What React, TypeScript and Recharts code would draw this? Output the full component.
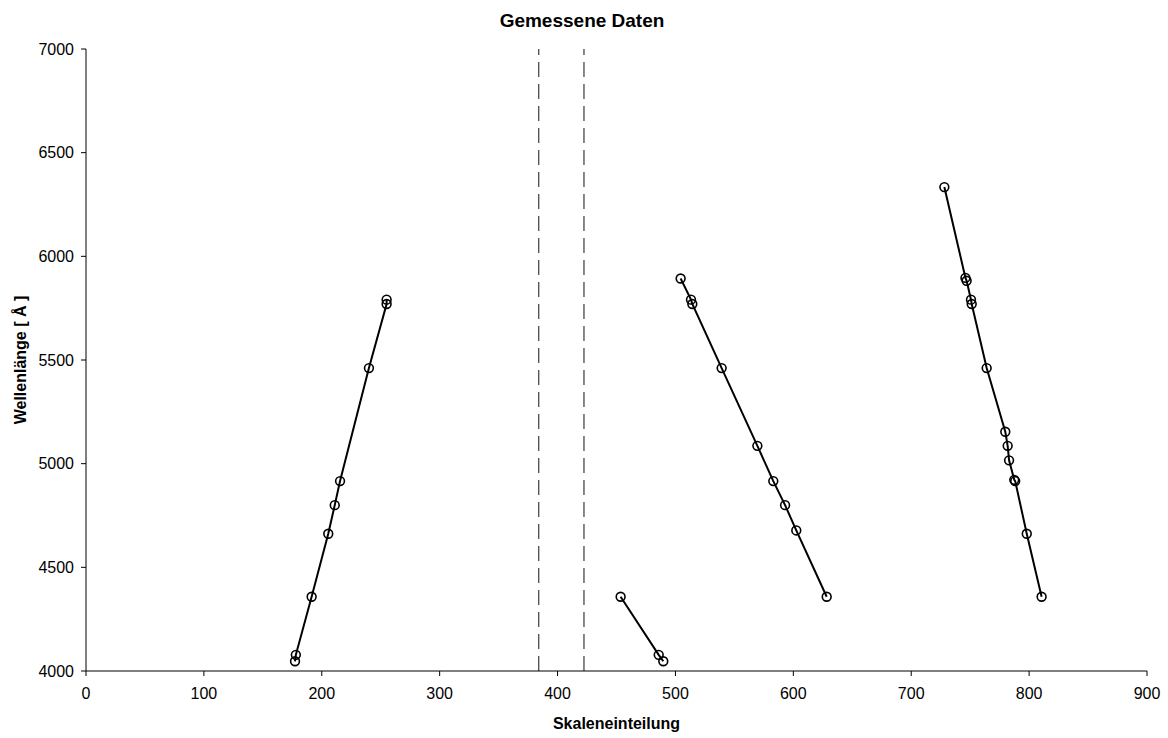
import { ScatterChart, Scatter, XAxis, YAxis, ReferenceLine } from 'recharts';

// Skalenteil / Wellenlänge, je Spektrum eine Reihe
const xLinks = [177.3, 178, 191.4, 205.5, 211, 215.5, 240, 255, 255];
const wLinks = [4047, 4078, 4358, 4662, 4800, 4916, 5461, 5770, 5791];

const xKurz = [453.5, 485.8, 489.7];
const wKurz = [4358, 4078, 4047];

const xMitte = [504.4, 513.2, 514.3, 539.2, 569.5, 583, 593, 602.5, 628.3];
const wMitte = [5893, 5791, 5770, 5461, 5086, 4916, 4800, 4678, 4358];

const xRechts = [728.1, 746, 747, 750.7, 751.3, 764, 779.8, 781.8, 783, 787.4, 788.2, 798, 810.6];
const wRechts = [6334, 5896, 5882, 5791, 5770, 5461, 5154, 5086, 5016, 4922, 4916, 4662, 4358];

const grenzen = [384, 422.4];

const xTicks = [0, 100, 200, 300, 400, 500, 600, 700, 800, 900];
const yTicks = [4000, 4500, 5000, 5500, 6000, 6500, 7000];

const toPoints = (xs: number[], ws: number[]) => xs.map((x, i) => ({ x, y: ws[i] }));

const reihen = [
  toPoints(xLinks, wLinks),
  toPoints(xKurz, wKurz),
  toPoints(xMitte, wMitte),
  toPoints(xRechts, wRechts),
];

const font = 'Liberation Sans, Arial, sans-serif';

const Kreis = (props: any) => (
  <circle cx={props.cx} cy={props.cy} r={4.4} fill="none" stroke="#000" strokeWidth={1.6} />
);

export default function App() {
  return (
    <div style={{ position: 'absolute', left: 0, top: 0, width: 1168, height: 738, background: '#fff', fontFamily: font }}>
      <div
        style={{
          position: 'absolute',
          left: 0,
          top: 11,
          width: 1164,
          textAlign: 'center',
          fontSize: 19,
          lineHeight: '19px',
          fontWeight: 'bold',
          color: '#000',
        }}
      >
        Gemessene Daten
      </div>
      <ScatterChart width={1168} height={738} margin={{ top: 49, right: 21, bottom: 7, left: 0 }}>
        <XAxis
          type="number"
          dataKey="x"
          domain={[0, 900]}
          ticks={xTicks}
          height={60}
          stroke="#000"
          tickSize={5}
          tickMargin={12}
          tick={{ fontSize: 16, fill: '#000', fontFamily: font }}
          label={{
            value: 'Skaleneinteilung',
            position: 'insideBottom',
            offset: 2,
            style: { fontSize: 16, fontWeight: 'bold', fill: '#000', fontFamily: font },
          }}
        />
        <YAxis
          type="number"
          dataKey="y"
          domain={[4000, 7000]}
          ticks={yTicks}
          width={86}
          stroke="#000"
          tickSize={5}
          tickMargin={7}
          tick={{ fontSize: 16, fill: '#000', fontFamily: font }}
          label={{
            value: 'Wellenlänge [ Å ]',
            angle: -90,
            position: 'insideLeft',
            offset: 20,
            style: { fontSize: 16, fontWeight: 'bold', fill: '#000', fontFamily: font, textAnchor: 'middle' },
          }}
        />
        {grenzen.map((g) => (
          <ReferenceLine key={g} x={g} stroke="#555" strokeWidth={1.4} strokeDasharray="15 7" />
        ))}
        {reihen.map((d, i) => (
          <Scatter
            key={i}
            data={d}
            line={{ stroke: '#000', strokeWidth: 2 }}
            lineType="joint"
            shape={Kreis}
            isAnimationActive={false}
          />
        ))}
      </ScatterChart>
    </div>
  );
}
